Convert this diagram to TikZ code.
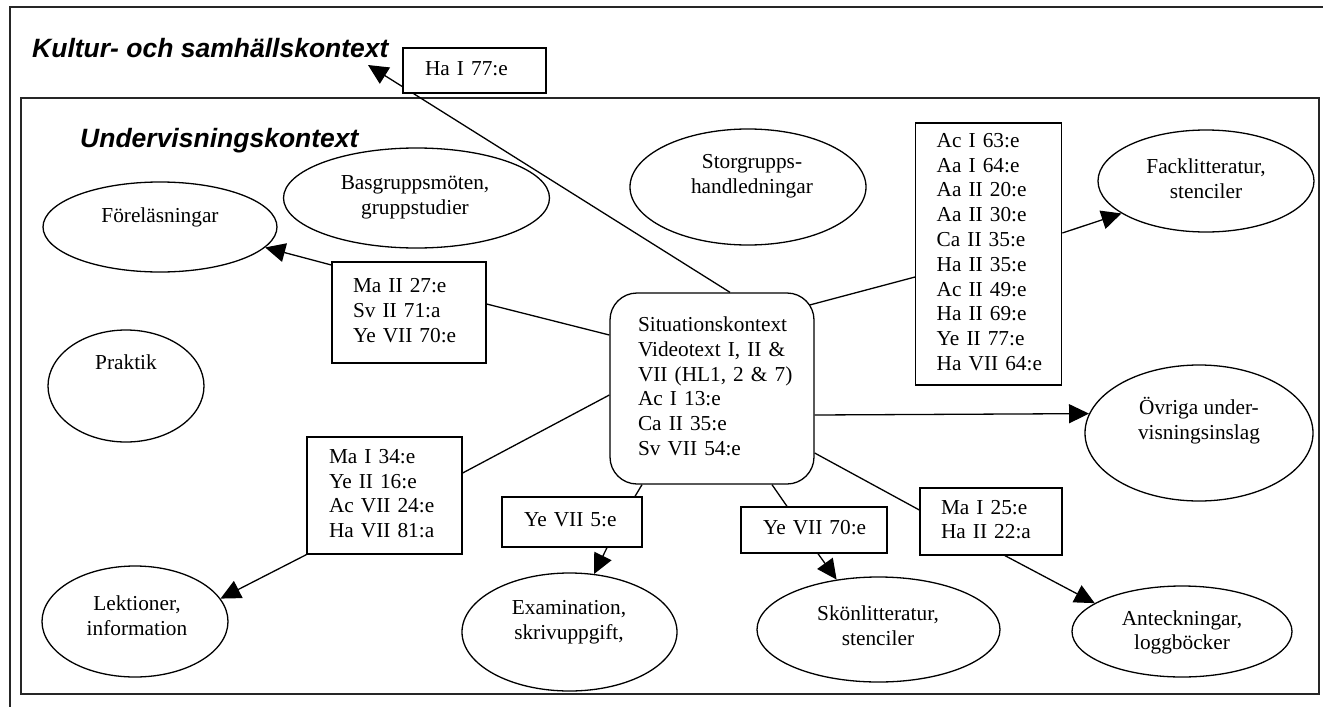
\documentclass[tikz,border=0pt]{standalone}
\usepackage{fontspec}
\setmainfont{Liberation Serif}
\newfontfamily\headfont{Liberation Sans}
\usetikzlibrary{arrows.meta,shapes.geometric}
% a left-aligned block of lines that never wraps
\newcommand\reflines[1]{\begin{tabular}{@{}l@{}}#1\end{tabular}}

\begin{document}
\begin{tikzpicture}[x=1pt,y=-1pt,
  every node/.style={font=\fontsize{21.3}{24.8}\selectfont},
  frame/.style={line width=1.5pt, draw=black!85},
  refbox/.style={draw, rectangle, fill=white, line width=1.3pt, align=left, inner ysep=0pt},
  oval/.style={draw, ellipse, line width=1.3pt, inner sep=0pt},
  lbl/.style={align=center, inner sep=0pt},
  link/.style={line width=1.3pt},
  arr/.style={line width=1.3pt, -{Triangle[length=20pt,width=19pt]}},
  heading/.style={font=\headfont\bfseries\itshape\fontsize{26.5}{30}\selectfont, anchor=base west, inner sep=0pt},
]
\useasboundingbox (0,0) rectangle (1323,707);

% context frames
\draw[frame] (10,707) -- (10,7) -- (1323,7);
\draw[frame] (21,98) rectangle (1319,694);
\node[heading] (kultur) at (32,57) {Kultur- och samhällskontext};
\node[heading] (under) at (80,147) {Undervisningskontext};
\coordinate (kulturtip) at (368,65);

% ellipses
\node[oval, minimum width=234pt, minimum height=90pt] (fore) at (160,227) {};
\node[lbl] (fore-t) at (160,217) {Föreläsningar};
\node[oval, minimum width=266pt, minimum height=100pt] (bas) at (416.5,198) {};
\node[lbl] (bas-t) at (415,197) {Basgruppsmöten,\\gruppstudier};
\node[oval, minimum width=236pt, minimum height=116pt] (stor) at (748,187) {};
\node[lbl] (stor-t) at (752,176.5) {Storgrupps-\\handledningar};
\node[oval, minimum width=216pt, minimum height=102pt] (fack) at (1206,181) {};
\node[lbl] (fack-t) at (1206,179) {Facklitteratur,\\stenciler};
\node[oval, minimum width=156pt, minimum height=112pt] (prak) at (126,386) {};
\node[lbl] (prak-t) at (126,362) {Praktik};
\node[oval, minimum width=228pt, minimum height=136pt] (ovr) at (1199,433) {};
\node[lbl] (ovr-t) at (1199,420.5) {Övriga under-\\visningsinslag};
\node[oval, minimum width=186pt, minimum height=111pt] (lek) at (135,621.5) {};
\node[lbl] (lek-t) at (137,615.5) {Lektioner,\\information};
\node[oval, minimum width=215pt, minimum height=118pt] (exam) at (569.5,632) {};
\node[lbl] (exam-t) at (569,622) {Examination,\\skrivuppgift,};
\node[oval, minimum width=243pt, minimum height=105pt] (skon) at (878.5,629.5) {};
\node[lbl] (skon-t) at (878,625.5) {Skönlitteratur,\\stenciler};
\node[oval, minimum width=220pt, minimum height=91pt] (ant) at (1182,631.5) {};
\node[lbl] (ant-t) at (1182,632.5) {Anteckningar,\\loggböcker};

% central situation box
\node[refbox, rounded corners=27pt, inner xsep=28pt, text width=148pt,
      minimum width=204pt, minimum height=191pt] (sit) at (712,388.5)
  {\reflines{Situationskontext\\Videotext I, II \&\\VII (HL1, 2 \& 7)\\Ac I 13:e\\Ca II 35:e\\Sv VII 54:e}};

% reference boxes
\node[refbox, inner xsep=21pt, text width=112pt, minimum width=154pt, minimum height=101pt] (ma2) at (409,312.5)
  {\reflines{Ma II 27:e\\Sv II 71:a\\Ye VII 70:e}};
\node[refbox, inner xsep=21pt, text width=104pt, minimum width=146pt, minimum height=262pt] (ac) at (988.7,254)
  {\reflines{Ac I 63:e\\Aa I 64:e\\Aa II 20:e\\Aa II 30:e\\Ca II 35:e\\Ha II 35:e\\Ac II 49:e\\Ha II 69:e\\Ye II 77:e\\Ha VII 64:e}};
\node[refbox, inner xsep=22pt, text width=111pt, minimum width=155pt, minimum height=117pt] (ma134) at (384.5,495.5)
  {\reflines{Ma I 34:e\\Ye II 16:e\\Ac VII 24:e\\Ha VII 81:a}};
\node[refbox, inner xsep=22pt, text width=96pt, minimum width=140pt, minimum height=50pt] (ye5) at (572,522)
  {\reflines{Ye VII 5:e}};
\node[refbox, inner xsep=22pt, text width=102pt, minimum width=146pt, minimum height=46pt] (ye70) at (814,530)
  {\reflines{Ye VII 70:e}};
\node[refbox, inner xsep=21pt, text width=100pt, minimum width=142pt, minimum height=67pt] (ma125) at (991,521.5)
  {\reflines{Ma I 25:e\\Ha II 22:a}};

% connectors
\draw[arr] ([xshift=18pt]sit.north) -- (kulturtip);
\node[refbox, inner xsep=22pt, text width=99pt, minimum width=143pt, minimum height=45pt] (ha77) at (474.5,70.5)
  {\reflines{Ha I 77:e}};

\draw[link] ([yshift=53.5pt]sit.west) -- ([yshift=8.5pt]ma2.east);
\draw[arr] ([yshift=47.5pt]ma2.west) -- (fore.-11.3);

\draw[link] ([xshift=-5pt,yshift=83.5pt]sit.east) -- ([yshift=-23pt]ac.west);
\draw[arr] ([yshift=21pt]ac.east) -- (fack.201.7);

\draw[arr] ([yshift=-26.5pt]sit.east) -- (ovr.170.7);

\draw[link] ([yshift=-64.5pt]sit.east) -- ([yshift=11.5pt]ma125.west);
\draw[arr] ([xshift=14pt]ma125.south) -- (ant.162.5);

\draw[link] ([xshift=60pt]sit.south) -- ([xshift=-27pt]ye70.north);
\draw[arr] ([xshift=4pt]ye70.south) -- (skon.130.7);

\draw[link] ([xshift=-70pt]sit.south) -- ([xshift=63pt]ye5.north);
\draw[arr] ([xshift=35pt]ye5.south) -- (exam.67.8);

\draw[link] ([yshift=-6.5pt]sit.west) -- ([yshift=22.5pt]ma134.east);
\draw[arr] (ma134.south west) -- (lek.15.1);
\end{tikzpicture}
\end{document}
